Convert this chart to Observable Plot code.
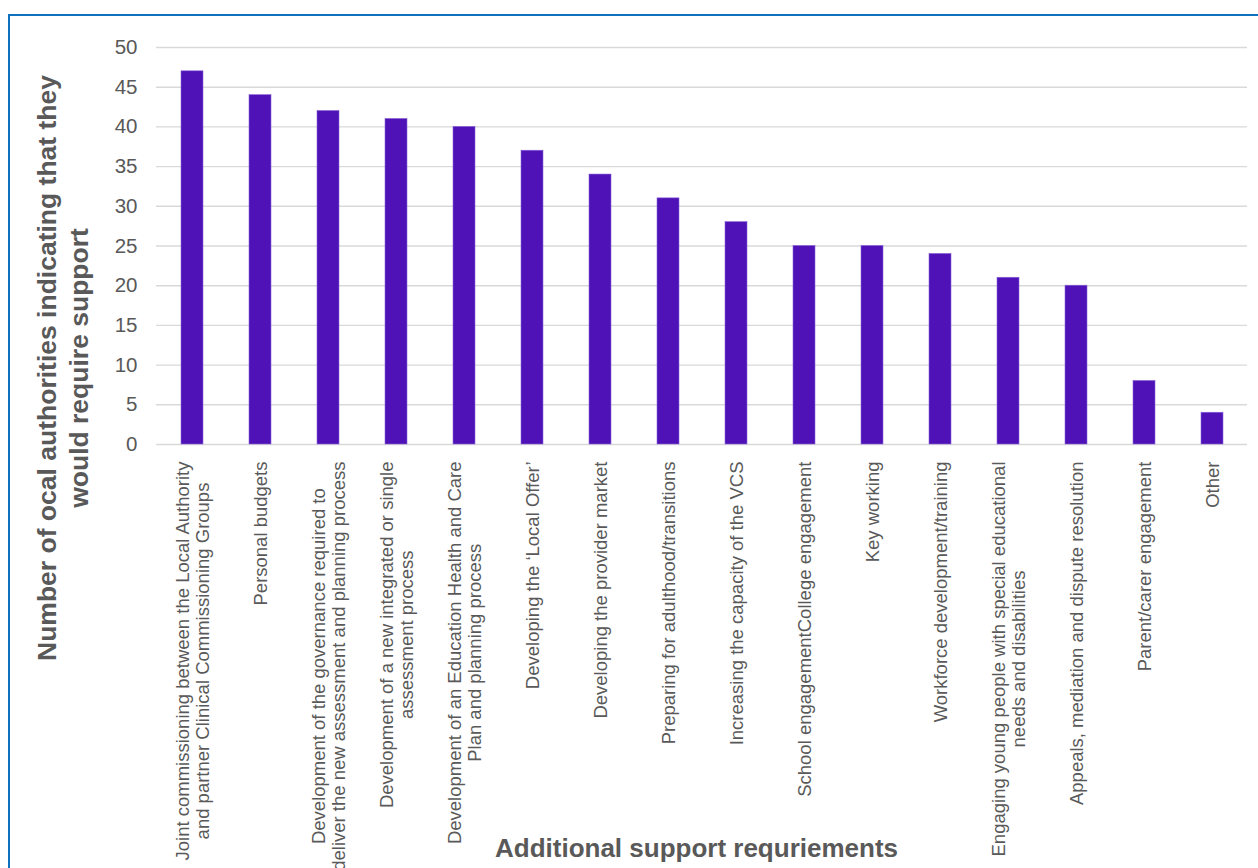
<!DOCTYPE html>
<html>
<head>
<meta charset="utf-8">
<script src="https://cdn.jsdelivr.net/npm/d3@7"></script>
<script src="https://cdn.jsdelivr.net/npm/@observablehq/plot@0.6"></script>
<style>
  html, body { margin: 0; padding: 0; background: #fff; overflow: hidden; }
  #wrap { position: relative; width: 1258px; height: 868px; overflow: hidden; }
  #frame { position: absolute; left: 8px; top: 14px; width: 1300px; height: 900px;
           border-left: 2px solid #0F70C0; border-top: 2px solid #0F70C0; box-sizing: border-box; }
  #chart { position: absolute; left: 0; top: 0; }
</style>
</head>
<body>
<div id="wrap"><div id="frame"></div><div id="chart"></div></div>
<script>
const categories = [
  "Joint commissioning between the Local Authority\nand partner Clinical Commissioning Groups",
  "Personal budgets",
  "Development of the governance required to\ndeliver the new assessment and planning process",
  "Development of a new integrated or single\nassessment process",
  "Development of an Education Health and Care\nPlan and planning process",
  "Developing the \u2018Local Offer\u2019",
  "Developing the provider market",
  "Preparing for adulthood/transitions",
  "Increasing the capacity of the VCS",
  "School engagementCollege engagement",
  "Key working",
  "Workforce development/training",
  "Engaging young people with special educational\nneeds and disabilities",
  "Appeals, mediation and dispute resolution",
  "Parent/carer engagement",
  "Other"
];
const values = [47, 44, 42, 41, 40, 37, 34, 31, 28, 25, 25, 24, 21, 20, 8, 4];
const yTicks = [0, 5, 10, 15, 20, 25, 30, 35, 40, 45, 50];
const yTitle = "Number of ocal authorities indicating that they\nwould require support";
const xTitle = "Additional support requriements";

const data = categories.map((c, i) => ({category: c, value: values[i]}));
const FONT = "'Liberation Sans', Arial, sans-serif";
const GRAY = "#595959";

const chart = Plot.plot({
  width: 1258,
  height: 868,
  marginLeft: 156,
  marginRight: 11,
  marginTop: 47,
  marginBottom: 424,
  style: {fontFamily: FONT, background: "transparent", overflow: "visible"},
  x: {domain: categories, paddingInner: 0.682, paddingOuter: 0.341, axis: null},
  y: {domain: [0, 50], ticks: yTicks, axis: null},
  marks: [
    Plot.gridY(yTicks, {stroke: "#D9D9D9", strokeOpacity: 1, strokeWidth: 1.4}),
    Plot.axisY(yTicks, {tickSize: 0, tickPadding: 19, fontSize: 20.5, fill: GRAY, label: null, tickFormat: d => String(d)}),
    Plot.barY(data, {x: "category", y: "value", fill: "#4F12B7", stroke: "#8A63D8", strokeWidth: 0.6}),
    Plot.text(data, {
      x: "category", y: () => 0, text: "category",
      rotate: -90, textAnchor: "end", lineAnchor: "middle", lineHeight: 1.09,
      dy: 17, fontSize: 18.5, fill: GRAY, fontFamily: FONT
    }),
    Plot.text([yTitle], {
      frameAnchor: "left", text: d => d, rotate: -90, textAnchor: "middle", lineAnchor: "middle",
      lineHeight: 1.24, dx: -95, dy: 122, fontSize: 26.5, fontWeight: "bold", fill: GRAY, fontFamily: FONT
    }),
    Plot.text([xTitle], {
      frameAnchor: "bottom", text: d => d, textAnchor: "middle", lineAnchor: "bottom",
      dx: -5.5, dy: 412, fontSize: 26, fontWeight: "bold", fill: GRAY, fontFamily: FONT
    })
  ]
});
document.getElementById("chart").appendChild(chart);

// Center multi-line category labels relative to each other (Excel-style wrapped label blocks)
d3.select(chart).selectAll("text").each(function() {
  const tspans = d3.select(this).selectAll("tspan");
  if (tspans.size() < 2) return;
  if (getComputedStyle(this).textAnchor !== "end") return;
  let maxW = 0;
  tspans.each(function() { maxW = Math.max(maxW, this.getComputedTextLength()); });
  tspans.attr("text-anchor", "middle").attr("x", -maxW / 2);
});
</script>
</body>
</html>
